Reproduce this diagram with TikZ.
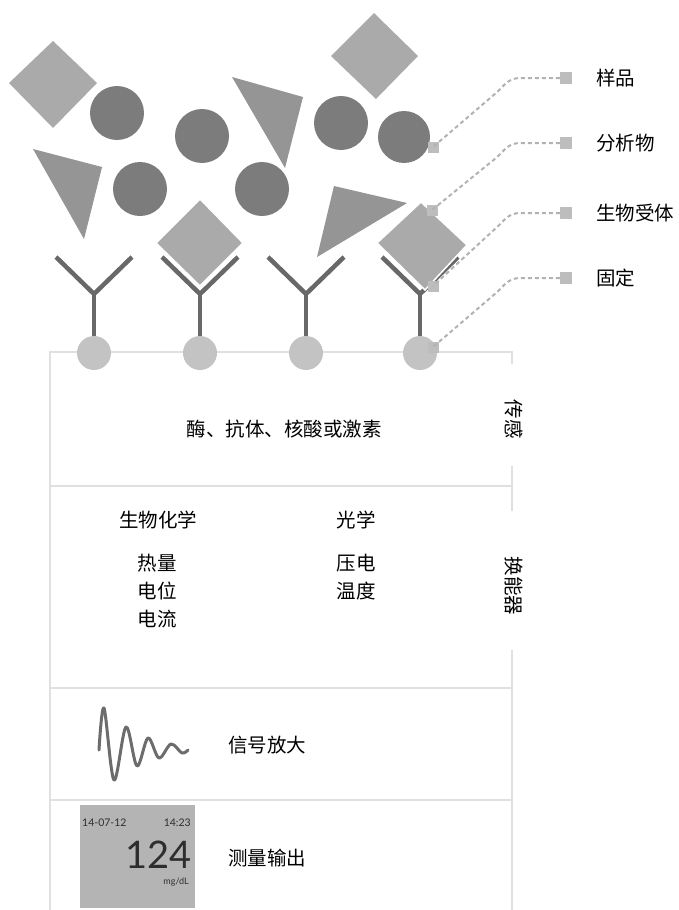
\documentclass[tikz,border=0pt]{standalone}
\usepackage{fontspec}
\newfontfamily\cjk{Noto Sans CJK SC}
\newfontfamily\lcd{Lato}
\definecolor{boxline}{HTML}{E0E0E0}
\definecolor{molcirc}{HTML}{7C7C7C}
\definecolor{moltri}{HTML}{959595}
\definecolor{moldia}{HTML}{AAAAAA}
\definecolor{receptor}{HTML}{686868}
\definecolor{basecirc}{HTML}{C3C3C3}
\definecolor{marker}{HTML}{BDBDBD}
\definecolor{leadline}{HTML}{B2B2B2}
\definecolor{screen}{HTML}{B4B4B4}
\definecolor{screentext}{HTML}{2E2E2E}
\begin{document}
\begin{tikzpicture}[x=1pt,y=-1pt,
  cn/.style={font=\cjk\fontsize{19.5}{22}\selectfont, inner sep=0pt, text=black},
  sidelabel/.style={cn, rotate=-90},
  frame/.style={draw=boxline, line width=2pt},
  circ/.style={fill=molcirc},
  tri/.style={fill=moltri},
  dia/.style={fill=moldia},
  bounddia/.style={fill=moldia, draw=white, line width=1.5pt, line join=miter},
  yarm/.style={draw=receptor, line width=4.5pt},
  base/.style={fill=basecirc},
  anchorsq/.style={fill=marker, minimum size=11pt, inner sep=0pt},
  legsq/.style={fill=marker, minimum size=12pt, inner sep=0pt},
  leader/.style={draw=leadline, line width=2pt, dash pattern=on 4pt off 3pt},
  wave/.style={draw=gray!85!black, line width=3pt, line cap=round, line join=round},
  smalltxt/.style={font=\lcd\fontsize{10.5}{12}\selectfont, text=screentext, inner sep=0pt},
]
\useasboundingbox (0,0) rectangle (679,910);

% ---- sensor housing: outline and section dividers ----
\draw[frame] (50,910) -- (50,352) -- (512,352) -- (512,364);
\draw[frame] (512,466) -- (512,511);
\draw[frame] (512,650) -- (512,910);
\draw[frame] (50,486) -- (512,486);
\draw[frame] (50,688) -- (512,688);
\draw[frame] (50,800) -- (512,800);

% ---- immobilised bioreceptors (Y shapes) ----
\foreach \x in {94,200,306,420}{
  \draw[yarm] (\x-38,257) -- (\x,294) -- (\x+38,257);
  \draw[yarm] (\x,294) -- (\x,342);
}
\foreach \x in {94,200,306,420}{
  \fill[base] (\x,353) circle[radius=17pt];
}

% ---- sample molecules ----
\fill[dia] (53,41) -- (97,83) -- (53,128) -- (9,83) -- cycle;
\fill[dia] (374,13) -- (418,56) -- (376,99) -- (331,56) -- cycle;
\fill[tri] (232,77) -- (303,97) -- (285,168) -- cycle;
\fill[tri] (33,149) -- (102,167) -- (84,239) -- cycle;
\fill[tri] (334,186) -- (407,203) -- (317,257) -- cycle;
\fill[circ] (117,113) circle[radius=27pt];
\fill[circ] (202,136) circle[radius=27pt];
\fill[circ] (341,123) circle[radius=27pt];
\fill[circ] (404,137) circle[radius=26pt];
\fill[circ] (140,189) circle[radius=27pt];
\fill[circ] (262,189) circle[radius=27pt];
% analytes bound in the receptor cups
\filldraw[bounddia] (200,199) -- (243,243) -- (200,286) -- (156,243) -- cycle;
\filldraw[bounddia] (421,202) -- (467,245) -- (425,290) -- (377,243) -- cycle;

% ---- anchor points of the legend leaders ----
\node[anchorsq] (a1) at (433,147) {};
\node[anchorsq] (a2) at (432,210) {};
\node[anchorsq] (a3) at (433,286) {};
\node[anchorsq] (a4) at (433,347) {};

% ---- legend ----
\node[legsq] (s1) at (566,78) {};
\node[legsq] (s2) at (566,143) {};
\node[legsq] (s3) at (566,213) {};
\node[legsq] (s4) at (566,278) {};
\node[cn, anchor=west] (l1) at (596,78) {样品};
\node[cn, anchor=west] (l2) at (596,143) {分析物};
\node[cn, anchor=west] (l3) at (596,213) {生物受体};
\node[cn, anchor=west] (l4) at (596,278) {固定};

\coordinate (k1) at (520,78);
\coordinate (k2) at (520,143);
\coordinate (k3) at (520,213);
\coordinate (k4) at (520,278);
\foreach \i in {1,2,3,4}{
  \draw[leader] (s\i.west) -- (k\i) .. controls +(-12,0) and +(8,-7) .. ++(-24,15) -- (a\i.center);
}

% ---- sensing layer ----
\node[cn] (sens) at (284,429) {酶、抗体、核酸或激素};
\node[sidelabel] (sside) at (514,419) {传感};

% ---- transducer layer ----
\node[cn] (biochem) at (158,520) {生物化学};
\node[cn] (optic) at (356,520) {光学};
\node[cn] (heat) at (157,563) {热量};
\node[cn] (potential) at (157,591) {电位};
\node[cn] (current) at (157,619) {电流};
\node[cn] (piezo) at (356,563) {压电};
\node[cn] (temp) at (356,591) {温度};
\node[sidelabel] (tside) at (514,586) {换能器};

% ---- signal amplification ----
\draw[wave] plot[smooth, tension=0.55] coordinates {(99,750) (104,708) (114,780) (126,727) (137,766) (148,738) (159,758) (171,744) (182,753) (188,750)};
\node[cn] (amp) at (267,745) {信号放大};

% ---- measurement output: meter display ----
\node[fill=screen, minimum width=115pt, minimum height=103pt, inner sep=0pt] (disp) at (137.5,856.5) {};
\node[smalltxt, anchor=west] (date) at (82,823) {14-07-12};
\node[smalltxt, anchor=east] (clock) at (191,823) {14:23};
\node[font=\lcd\fontsize{38}{40}\selectfont, text=screentext, inner sep=0pt, anchor=east] (reading) at (192,855) {124};
\node[font=\lcd\fontsize{9}{10}\selectfont, text=screentext, inner sep=0pt, anchor=east] (unit) at (189,882) {mg/dL};
\node[cn] (out) at (267,858) {测量输出};
\end{tikzpicture}
\end{document}
